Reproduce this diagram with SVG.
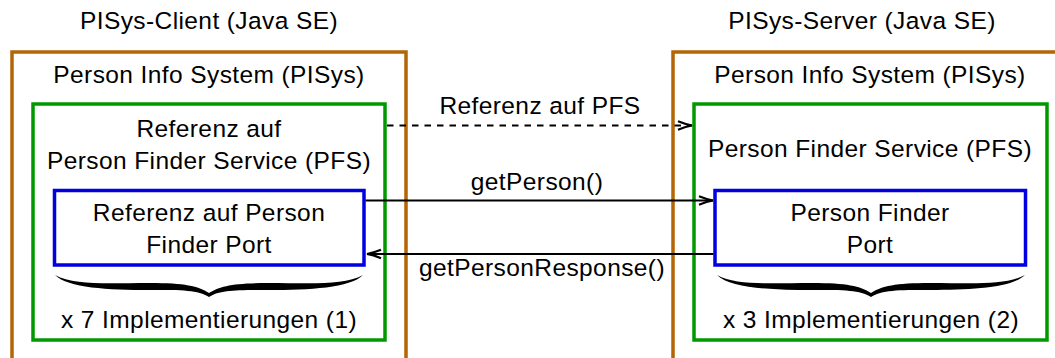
<svg xmlns="http://www.w3.org/2000/svg" xmlns:xlink="http://www.w3.org/1999/xlink" width="1055" height="358" viewBox="0 0 1055 358">
<style>
text{font-family:"Liberation Sans",Arial,Helvetica,sans-serif;font-size:24.5px;letter-spacing:0.4px;fill:#000;text-anchor:middle}
.sys{fill:none;stroke:#b46504;stroke-width:3.5}
.svc{fill:none;stroke:#009900;stroke-width:3.5}
.port{fill:none;stroke:#0000e0;stroke-width:3.5}
.conn{fill:none;stroke:#000;stroke-width:2}
.dash{stroke-dasharray:6.5 6}
</style>
<defs>
<marker id="open" markerUnits="userSpaceOnUse" markerWidth="18" markerHeight="12" refX="15" refY="6" orient="auto" viewBox="0 0 18 12">
<path d="M1,1.8 Q9,5 15,6 Q9,7 1,10.2" fill="none" stroke="#000" stroke-width="2.2"/>
</marker>
<path id="brace" d="M-154,0 C-134,11 -99,8 -59,8 C-24,8 -11,11 0,18 C11,11 24,8 59,8 C99,8 134,11 154,0 C141,13 101,15 59,15 C26,15 11,15 0,22 C-11,15 -26,15 -59,15 C-101,15 -141,13 -154,0 Z" fill="#000"/>
</defs>
<g id="client">
<text x="209" y="29">PISys-Client (Java SE)</text>
<path class="sys" d="M12,362 V52 H406 V362"/>
<text x="209" y="83">Person Info System (PISys)</text>
</g>
<g id="client-pfs">
<rect class="svc" x="33" y="104" width="352" height="236"/>
<text x="209" y="137">Referenz auf</text>
<text x="209" y="168.5">Person Finder Service (PFS)</text>
<use xlink:href="#brace" x="209" y="275"/>
<text x="209" y="328">x 7 Implementierungen (1)</text>
</g>
<g id="client-port">
<rect class="port" x="54.5" y="190.5" width="309.5" height="74.5"/>
<text x="209" y="221">Referenz auf Person</text>
<text x="209" y="252.5">Finder Port</text>
</g>
<g id="server">
<text x="862" y="29">PISys-Server (Java SE)</text>
<path class="sys" d="M673,362 V52 H1060"/>
<text x="870" y="83">Person Info System (PISys)</text>
</g>
<g id="server-pfs">
<rect class="svc" x="694" y="104" width="353" height="236"/>
<text x="870" y="157">Person Finder Service (PFS)</text>
<use xlink:href="#brace" x="871" y="275"/>
<text x="871" y="328">x 3 Implementierungen (2)</text>
</g>
<g id="server-port">
<rect class="port" x="715" y="190.5" width="310.5" height="74.5"/>
<text x="870" y="221">Person Finder</text>
<text x="870" y="252.5">Port</text>
</g>
<g id="connectors">
<line class="conn dash" x1="387" y1="125.5" x2="692" y2="125.5" marker-end="url(#open)"/>
<text x="540" y="114">Referenz auf PFS</text>
<line class="conn" x1="365.5" y1="200.5" x2="713" y2="200.5" marker-end="url(#open)"/>
<text x="537" y="190">getPerson()</text>
<line class="conn" x1="713.5" y1="254" x2="367" y2="254" marker-end="url(#open)"/>
<text x="542" y="276">getPersonResponse()</text>
</g>
</svg>
